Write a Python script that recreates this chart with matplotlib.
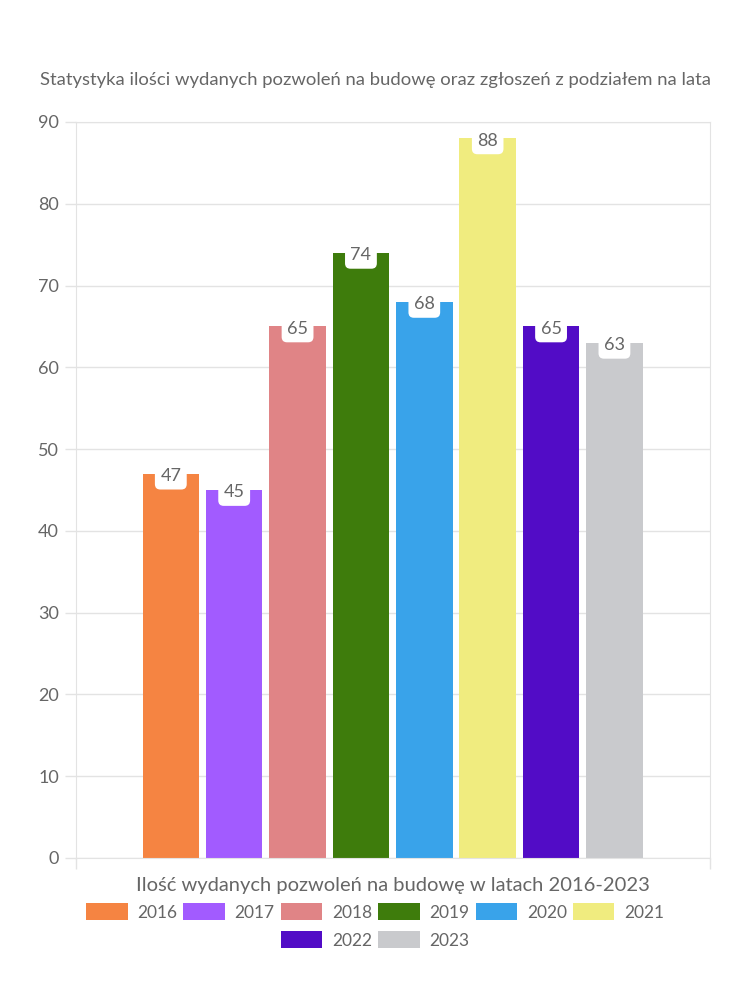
import matplotlib.pyplot as plt
from matplotlib.patches import Patch

years = ['2016', '2017', '2018', '2019', '2020', '2021', '2022', '2023']
values = [47, 45, 65, 74, 68, 88, 65, 63]
colors = ['#f58442', '#a25bff', '#e08486', '#3e7c0c', '#39a3ea', '#f0ec7f', '#520cc6', '#c9cacd']

title = 'Statystyka ilości wydanych pozwoleń na budowę oraz zgłoszeń z podziałem na lata'
xlabel = 'Ilość wydanych pozwoleń na budowę w latach 2016-2023'

plt.rcParams['font.family'] = ['Lato', 'DejaVu Sans']
txt = '#666666'
grid = '#e3e3e3'

fig = plt.figure(figsize=(7.5, 10), dpi=100)
ax = fig.add_axes([0.101, 0.142, 0.845, 0.736])

x = list(range(len(years)))
bars = ax.bar(x, values, width=0.89, color=colors, zorder=2)
for xi, v in zip(x, values):
    ax.text(xi, v - 0.3, str(v), ha='center', va='center', fontsize=13, color=txt, zorder=4,
            bbox=dict(boxstyle='round,pad=0.3,rounding_size=0.3', fc='white', ec='none'))

ax.set_xlim(-1.5, 8.5)
ax.set_ylim(0, 90)
ax.set_yticks(range(0, 91, 10))
# category boundary ticks at the plot edges
ax.set_xticks([-1.5, 8.5])
ax.set_xticklabels([])
ax.tick_params(axis='y', colors=grid, labelcolor=txt, labelsize=13, length=8, width=1, pad=4)
ax.tick_params(axis='x', colors=grid, length=8, width=1)
ax.grid(axis='y', color=grid, lw=1, zorder=0)
for s in ax.spines.values():
    s.set_color(grid)
ax.set_xlabel(xlabel, fontsize=14.5, color=txt, labelpad=2)

fig.text(0.5, 0.92, title, ha='center', va='center', fontsize=13.3, color=txt)

handles = [Patch(facecolor=c, label=y) for c, y in zip(colors, years)]
leg_kw = dict(frameon=False, fontsize=12.5, labelcolor=txt, handlelength=2.4, handleheight=1.1,
              handletextpad=0.55, columnspacing=0.35, loc='center', borderpad=0)
fig.legend(handles=handles[:6], ncol=6, bbox_to_anchor=(0.5, 0.088), **leg_kw)
fig.legend(handles=handles[6:], ncol=2, bbox_to_anchor=(0.5, 0.060), **leg_kw)

fig.savefig('out.png', dpi=100, facecolor='white')
